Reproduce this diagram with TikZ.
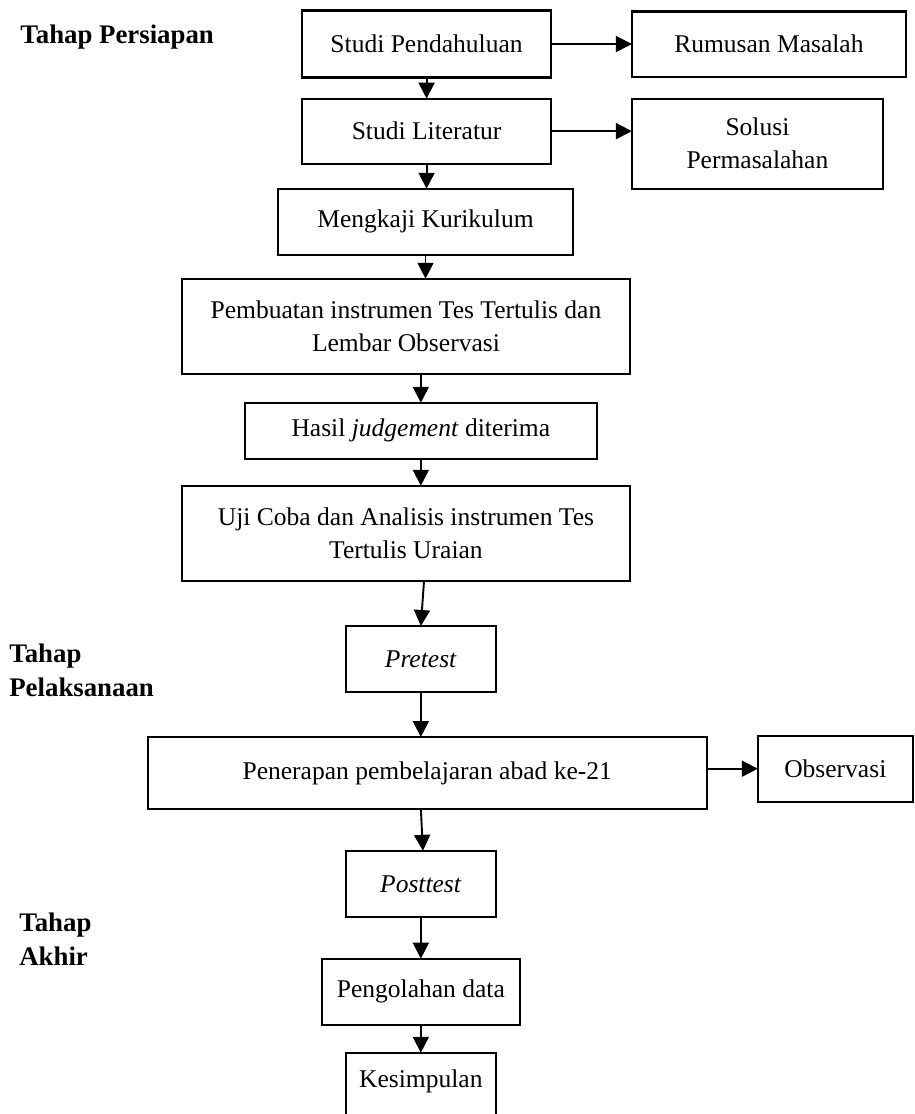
\documentclass[tikz,border=0pt]{standalone}
\usepackage{fontspec}
\setmainfont{Liberation Serif}
\usepackage{tikz}
\usetikzlibrary{arrows.meta,positioning}

\begin{document}
\begin{tikzpicture}[
  box/.style={rectangle,draw=black,line width=1pt,align=center,inner sep=2pt,outer sep=0pt,
    font=\fontsize{12}{15.5}\selectfont},
  tahap/.style={anchor=west,align=left,inner sep=0pt,
    font=\fontsize{12.6}{16}\selectfont\bfseries},
  arr/.style={black,line width=0.9pt,-{Triangle[length=7.5pt,width=7.5pt]}}]
  \useasboundingbox (0,0) rectangle (430pt,-523.6pt);
  % tahap persiapan
  \node[box,minimum width=117pt,minimum height=31.5pt] (pend) at (200.5pt,-20.7pt) {Studi Pendahuluan};
  \node[box,minimum width=128.8pt,minimum height=30.6pt,right=38pt of pend] (rumus) {Rumusan Masalah};
  \node[box,minimum width=117pt,minimum height=30.6pt,below=9.9pt of pend] (lit) {Studi Literatur};
  \node[box,minimum width=118pt,minimum height=42.3pt,right=38pt of lit.north east,anchor=north west] (solusi) {Solusi\\Permasalahan};
  \node[box,minimum width=138.7pt,minimum height=31pt,below=11.75pt of lit,xshift=-0.5pt] (kaji) {Mengkaji Kurikulum};
  \node[box,minimum width=210.6pt,minimum height=44.7pt,below=11.3pt of kaji,xshift=-9.2pt] (buat) {Pembuatan instrumen Tes Tertulis dan\\Lembar Observasi};
  \node[box,minimum width=165.4pt,minimum height=26.3pt,below=13.6pt of buat,xshift=7pt] (hasil) {Hasil \textit{judgement} diterima};
  \node[box,minimum width=210.6pt,minimum height=44.7pt,below=12.7pt of hasil,xshift=-7pt] (uji) {Uji Coba dan Analisis instrumen Tes\\Tertulis Uraian};
  % tahap pelaksanaan
  \node[box,minimum width=70.5pt,minimum height=31pt,below=21.2pt of uji,xshift=7pt] (pre) {\textit{Pretest}};
  \node[box,minimum width=262.7pt,minimum height=33.8pt,below=21.2pt of pre,xshift=3pt] (terap) {Penerapan pembelajaran abad ke-21};
  \node[box,minimum width=72.9pt,minimum height=31pt,right=24pt of terap,yshift=2pt] (obs) {Observasi};
  % tahap akhir
  \node[box,minimum width=70.5pt,minimum height=31pt,below=19.7pt of terap,xshift=-3pt] (post) {\textit{Posttest}};
  \node[box,minimum width=93pt,minimum height=31pt,below=19.7pt of post] (olah) {Pengolahan data};
  \node[box,minimum width=70.5pt,minimum height=36pt,below=13.2pt of olah,text depth=11.5pt] (simpul) {Kesimpulan};
  % label tahap
  \node[tahap] (lbpersiapan) at (9.4pt,-17.4pt) {Tahap Persiapan};
  \node[tahap] (lbpelaksanaan) at (4.2pt,-315pt) {Tahap\\Pelaksanaan};
  \node[tahap] (lbakhir) at (8.9pt,-441.3pt) {Tahap\\Akhir};
  % panah
  \draw[arr] (pend) -- (rumus);
  \draw[arr] (lit) -- (lit -| solusi.west);
  \draw[arr] (pend) -- (lit);
  \draw[arr] (lit.south) -- (lit.south |- kaji.north);
  \draw[arr] (kaji.south) -- (kaji.south |- buat.north);
  \draw[arr] (hasil.north |- buat.south) -- (hasil.north);
  \draw[arr] (hasil.south) -- (hasil.south |- uji.north);
  \draw[arr] ([xshift=1.5pt]pre.north |- uji.south) -- (pre.north);
  \draw[arr] (pre.south) -- (pre.south |- terap.north);
  \draw[arr] (post.north |- terap.south) -- ([xshift=1pt]post.north);
  \draw[arr] (terap.east |- obs.west) -- (obs.west);
  \draw[arr] (post) -- (olah);
  \draw[arr] (olah) -- (simpul);
\end{tikzpicture}
\end{document}
